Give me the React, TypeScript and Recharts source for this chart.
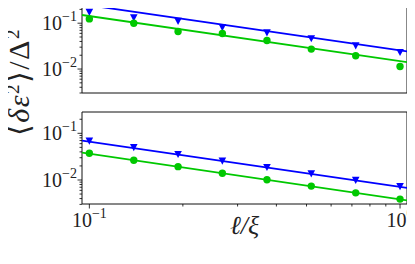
import React from 'react';
import { LineChart, Line, XAxis, YAxis, ReferenceArea } from 'recharts';

// l / xi positions (log-spaced, 8 points)
const lengths = [0.1, 0.139, 0.193, 0.268, 0.373, 0.518, 0.72, 1.0];

// top panel
const topBlue = [0.174, 0.1325, 0.111, 0.081, 0.062, 0.0462, 0.0324, 0.0232];
const topGreen = [0.124, 0.1, 0.0657, 0.0594, 0.0419, 0.0272, 0.0195, 0.0114];
// bottom panel
const botBlue = [0.0684, 0.05, 0.0355, 0.0255, 0.0187, 0.0137, 0.0099, 0.0073];
const botGreen = [0.0373, 0.0264, 0.0193, 0.0139, 0.0101, 0.0074, 0.0053, 0.0039];

// fitted power laws, evaluated at the ends of the x range
const fitX = [0.0947, 1.053];
const topBlueFit = [0.259, 0.0242];
const topGreenFit = [0.151, 0.0142];
const botBlueFit = [0.0695, 0.00675];
const botGreenFit = [0.0385, 0.00367];

const xTicks = [0.1, 0.2, 0.3, 0.4, 0.5, 0.6, 0.7, 0.8, 0.9, 1];
const yTicksTop = [0.003, 0.004, 0.005, 0.006, 0.007, 0.008, 0.009, 0.01, 0.02, 0.03, 0.04, 0.05, 0.06, 0.07, 0.08, 0.09, 0.1, 0.2, 0.3];
const yTicksBot = yTicksTop.filter((t) => t < 0.28);

const X_DOMAIN = [0.0947, 1.053];
const TOP_DOMAIN = [0.003, 0.305];
const BOT_DOMAIN = [0.00306, 0.286];

const BLUE = '#0000ff';
const GREEN = '#00c800';
const FONT = '"Liberation Serif", "DejaVu Serif", serif';

const toRows = (xs: number[], ys: number[]) => xs.map((x, i) => ({ x, y: ys[i] }));

const isMajor = (v: number) => Math.abs(Math.log10(v) - Math.round(Math.log10(v))) < 1e-6;
const expLabel = (v: number) => {
  const e = Math.round(Math.log10(v));
  return e < 0 ? '\u2212' + Math.abs(e) : String(e);
};

const YTick = (props: any) => {
  const { x, y, payload } = props;
  const major = isMajor(payload.value);
  return (
    <g>
      <line x1={x} x2={x - (major ? 4.5 : 2.5)} y1={y} y2={y} stroke="#000" strokeWidth={0.8} />
      {major && (
        <text x={x - 5} y={y + 7} textAnchor="end" fontFamily={FONT} fontSize={20} fill="#222">
          10<tspan dy={-9} fontSize={14}>{expLabel(payload.value)}</tspan>
        </text>
      )}
    </g>
  );
};

const XTick = (props: any) => {
  const { x, y, payload } = props;
  const major = isMajor(payload.value);
  return (
    <g>
      <line x1={x} x2={x} y1={y} y2={y + (major ? 4.5 : 2.5)} stroke="#000" strokeWidth={0.8} />
      {major && (
        <text x={x} y={y + 23} textAnchor="middle" fontFamily={FONT} fontSize={20} fill="#222">
          10<tspan dy={-9} fontSize={14}>{expLabel(payload.value)}</tspan>
        </text>
      )}
    </g>
  );
};

const Triangle = (props: any) => {
  const { cx, cy, index } = props;
  if (cx == null || cy == null) return <g key={index} />;
  return <path key={index} d={`M${cx - 3.8},${cy - 3.4} L${cx + 3.8},${cy - 3.4} L${cx},${cy + 3.8} Z`} fill={BLUE} />;
};

const Circle = (props: any) => {
  const { cx, cy, index } = props;
  if (cx == null || cy == null) return <g key={index} />;
  return <circle key={index} cx={cx} cy={cy} r={3.7} fill={GREEN} />;
};

const Panel = ({ blue, green, blueFit, greenFit, domain, yTicks, bottom }: any) => (
  <LineChart
    width={415}
    height={bottom ? 264 : 94}
    margin={bottom ? { top: 112, right: 8, left: 0, bottom: 0 } : { top: 1, right: 8, left: 0, bottom: 1 }}
  >
    <XAxis
      type="number"
      dataKey="x"
      scale="log"
      domain={X_DOMAIN}
      allowDataOverflow
      ticks={xTicks}
      interval={0}
      tickSize={0}
      tickMargin={0}
      tickLine={false}
      axisLine={false}
      tick={<XTick />}
      height={60}
      hide={!bottom}
      label={bottom ? (
        <text x={244.5} y={255} textAnchor="middle" fontFamily={FONT} fontSize={26} fontStyle="italic" fill="#222">
          ℓ/ξ
        </text>
      ) : undefined}
    />
    <YAxis
      type="number"
      dataKey="y"
      scale="log"
      domain={domain}
      allowDataOverflow
      ticks={yTicks}
      interval={0}
      tickSize={0}
      tickMargin={0}
      tickLine={false}
      axisLine={false}
      tick={<YTick />}
      width={82}
    />
    <ReferenceArea x1={X_DOMAIN[0]} x2={X_DOMAIN[1]} y1={domain[0]} y2={domain[1]} fill="none" stroke="#111" strokeWidth={1} />
    <Line data={toRows(fitX, blueFit)} dataKey="y" stroke={BLUE} strokeWidth={1.8} dot={false} activeDot={false} isAnimationActive={false} />
    <Line data={toRows(fitX, greenFit)} dataKey="y" stroke={GREEN} strokeWidth={1.8} dot={false} activeDot={false} isAnimationActive={false} />
    <Line data={toRows(lengths, blue)} dataKey="y" stroke="none" dot={Triangle} activeDot={false} isAnimationActive={false} />
    <Line data={toRows(lengths, green)} dataKey="y" stroke="none" dot={Circle} activeDot={false} isAnimationActive={false} />
  </LineChart>
);

export default function App() {
  return (
    <div style={{ position: 'relative', width: 415, height: 264, margin: -8, background: '#fff' }}>
      <div style={{ position: 'absolute', left: 0, top: 0 }}>
        <Panel blue={botBlue} green={botGreen} blueFit={botBlueFit} greenFit={botGreenFit} domain={BOT_DOMAIN} yTicks={yTicksBot} bottom />
      </div>
      <div style={{ position: 'absolute', left: 0, top: 0 }}>
        <Panel blue={topBlue} green={topGreen} blueFit={topBlueFit} greenFit={topGreenFit} domain={TOP_DOMAIN} yTicks={yTicksTop} />
      </div>
      <svg width={415} height={264} style={{ position: 'absolute', left: 0, top: 0, pointerEvents: 'none' }}>
        <text
          transform="translate(29, 82) rotate(-90)"
          textAnchor="middle"
          fontFamily={FONT}
          fontSize={30}
          letterSpacing={1.5}
          fill="#222"
        >
          ⟨<tspan fontStyle="italic">δε</tspan>
          <tspan dy={-10} fontSize={19}>2</tspan>
          <tspan dy={10}>⟩/Δ</tspan>
          <tspan dy={-10} fontSize={19}>2</tspan>
        </text>
      </svg>
    </div>
  );
}
